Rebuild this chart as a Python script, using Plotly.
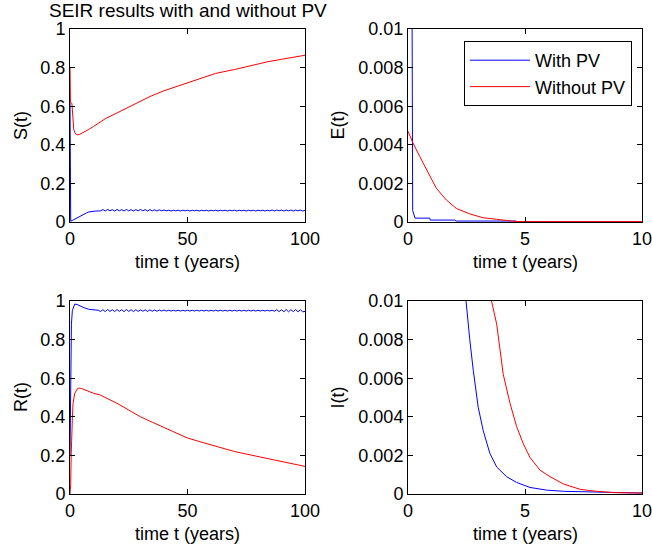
import plotly.graph_objects as go

# ---------------- data ----------------
# S(t)
t_S_pv = [0, 0.3, 1, 2, 3, 4, 5, 6, 7, 8, 9, 10, 11, 12, 13,
          14, 15, 16, 17, 18, 19, 20, 21, 22, 23, 24, 25, 26, 27, 28, 29, 30,
          31, 32, 33, 34, 35, 36, 37, 38, 39, 40, 41, 42, 43, 44, 45, 46, 47,
          48, 49, 50, 51, 52, 53, 54, 55, 56, 57, 58, 59, 60, 61, 62, 63, 64,
          65, 66, 67, 68, 69, 70, 71, 72, 73, 74, 75, 76, 77, 78, 79, 80, 81,
          82, 83, 84, 85, 86, 87, 88, 89, 90, 91, 92, 93, 94, 95, 96, 97, 98,
          99, 100]
S_pv = [0.63, 0.004, 0.008, 0.015, 0.022, 0.030, 0.036, 0.042, 0.047, 0.052, 0.055, 0.057, 0.057, 0.057, 0.058,
        0.064, 0.057, 0.065, 0.058, 0.064, 0.057, 0.065, 0.058, 0.064, 0.057, 0.065, 0.058, 0.064, 0.057, 0.064, 0.058, 0.065,
        0.058, 0.064, 0.057, 0.064, 0.058, 0.063, 0.057, 0.063, 0.058, 0.062, 0.058, 0.061, 0.057, 0.061, 0.058, 0.061, 0.057,
        0.061, 0.058, 0.061, 0.057, 0.061, 0.058, 0.061, 0.057, 0.061, 0.058, 0.061, 0.057, 0.061, 0.058, 0.061, 0.057, 0.061,
        0.058, 0.061, 0.057, 0.061, 0.058, 0.061, 0.057, 0.061, 0.058, 0.061, 0.057, 0.061, 0.058, 0.061, 0.057, 0.061, 0.058,
        0.061, 0.057, 0.061, 0.058, 0.062, 0.057, 0.062, 0.058, 0.062, 0.057, 0.062, 0.058, 0.062, 0.057, 0.062, 0.058, 0.062,
        0.057, 0.060]
t_S_nopv = [0, 0.2, 0.8, 1.2, 1.6, 2.2, 3, 4, 6, 8, 10, 12.8, 15, 20, 25, 30, 34, 40, 45,
            50, 55, 62, 70, 77, 84, 90, 95, 100]
S_nopv = [0.80, 0.62, 0.615, 0.55, 0.48, 0.46, 0.452, 0.453, 0.465, 0.48, 0.495, 0.52, 0.535, 0.565,
          0.595, 0.625, 0.65, 0.68, 0.70, 0.72, 0.74, 0.77, 0.79, 0.81, 0.83, 0.843, 0.853, 0.864]

# R(t)
t_R_pv = [0, 0.15, 0.3, 0.6, 1, 1.5, 2, 3, 4, 6, 8, 10, 11, 12,
          13, 14, 15, 16, 17, 18, 19, 20, 21, 22, 23, 24, 25, 26, 27, 28, 29, 30,
          31, 32, 33, 34, 35, 36, 37, 38, 39, 40, 41, 42, 43, 44, 45, 46, 47,
          48, 49, 50, 51, 52, 53, 54, 55, 56, 57, 58, 59, 60, 61, 62, 63, 64,
          65, 66, 67, 68, 69, 70, 71, 72, 73, 74, 75, 76, 77, 78, 79, 80, 81,
          82, 83, 84, 85, 86, 87, 88, 89, 90, 91, 92, 93, 94, 95, 96, 97, 98,
          99, 100]
R_pv = [0.20, 0.55, 0.75, 0.88, 0.95, 0.975, 0.984, 0.982, 0.975, 0.965, 0.957, 0.953, 0.953, 0.952,
        0.946, 0.955, 0.945, 0.956, 0.946, 0.955, 0.945, 0.956, 0.946, 0.955, 0.945, 0.956, 0.946, 0.955, 0.945, 0.955, 0.946, 0.954,
        0.947, 0.954, 0.946, 0.954, 0.947, 0.953, 0.947, 0.953, 0.948, 0.953, 0.948, 0.952, 0.948, 0.952, 0.948, 0.952, 0.948,
        0.952, 0.948, 0.952, 0.948, 0.952, 0.948, 0.952, 0.948, 0.952, 0.948, 0.952, 0.948, 0.952, 0.948, 0.952, 0.948, 0.952,
        0.948, 0.952, 0.948, 0.952, 0.948, 0.952, 0.948, 0.952, 0.948, 0.952, 0.948, 0.952, 0.948, 0.952, 0.948, 0.952, 0.948,
        0.952, 0.948, 0.952, 0.948, 0.952, 0.947, 0.955, 0.945, 0.955, 0.944, 0.956, 0.944, 0.955, 0.945, 0.956, 0.944, 0.955,
        0.944, 0.946]
t_R_nopv = [0, 0.3, 0.5, 0.7, 1, 1.3, 2, 3, 3.8, 5, 7, 10, 12.8, 15, 20, 25, 30, 35, 40, 45,
            50, 55, 60, 65, 70, 75, 80, 85, 90, 95, 100]
R_nopv = [0.0, 0.05, 0.20, 0.36, 0.39, 0.47, 0.52, 0.543, 0.549, 0.546, 0.535, 0.522, 0.513, 0.50,
          0.47, 0.435, 0.40, 0.372, 0.345, 0.317, 0.29, 0.272, 0.255, 0.237, 0.22, 0.207,
          0.194, 0.181, 0.168, 0.156, 0.143]

# E(t)
t_E_pv = [0, 0.15, 0.2, 0.3, 0.93, 0.95, 2.0, 2.05, 4.6, 4.65, 10]
E_pv = [0.08, 0.011, 0.0006, 0.0002, 0.0002, 0.0001, 0.0001, 0.00005, 0.00005, 0.00001, 0.00001]
t_E_nopv = [0, 0.21, 0.5, 0.93, 1.21, 1.64, 2.07, 2.64, 3.21, 3.79, 4.57, 5, 10]
E_nopv = [0.0047, 0.0041, 0.0034, 0.00235, 0.00175, 0.00114, 0.0007, 0.00042, 0.00022, 0.00014,
          0.00003, 0.00002, 0.00002]

# I(t)
t_I_pv = [2.2, 2.47, 2.64, 2.79, 3.0, 3.21, 3.5, 3.79, 4.21, 4.64, 5.21, 5.93, 6.64, 8.07, 9, 10]
I_pv = [0.0135, 0.01, 0.0080, 0.0064, 0.0045, 0.0033, 0.0021, 0.0014, 0.0009, 0.0006, 0.00034,
        0.0002, 0.00014, 0.0001, 0.00006, 0.00005]
t_I_nopv = [3.4, 3.57, 3.79, 4.07, 4.36, 4.64, 4.93, 5.21, 5.64, 6.07, 6.64, 7.36, 8.07, 8.79, 10]
I_nopv = [0.0115, 0.01, 0.0088, 0.0062, 0.0047, 0.0035, 0.0026, 0.0019, 0.00124, 0.0009, 0.00052,
          0.00024, 0.00014, 0.00007, 0.00005]

# ticks
x_long_ticks = [0, 50, 100]
x_short_ticks = [0, 5, 10]
y_unit_ticks = [0, 0.2, 0.4, 0.6, 0.8, 1]
y_unit_text = ["0", "0.2", "0.4", "0.6", "0.8", "1"]
y_small_ticks = [0, 0.002, 0.004, 0.006, 0.008, 0.01]
y_small_text = ["0", "0.002", "0.004", "0.006", "0.008", "0.01"]

labels = ["With PV", "Without PV"]
title_text = "SEIR results with and without PV"
y_titles = ["S(t)", "E(t)", "R(t)", "I(t)"]
x_title = "time t (years)"

# ---------------- figure ----------------
W, H = 652, 549
BLUE, RED = "#0000ff", "#ff0000"
FONT = "Liberation Sans, Arial, sans-serif"
FS = 18

# pixel boxes of the four panels: (left, right, top, bottom)
boxes = [(70, 305, 29, 222), (408, 642, 29, 222), (70, 305, 301, 494), (408, 642, 301, 494)]

fig = go.Figure()

panels = [
    (t_S_pv, S_pv, t_S_nopv, S_nopv),
    (t_E_pv, E_pv, t_E_nopv, E_nopv),
    (t_R_pv, R_pv, t_R_nopv, R_nopv),
    (t_I_pv, I_pv, t_I_nopv, I_nopv),
]
for i, (tb, yb, tr, yr) in enumerate(panels):
    ax = "" if i == 0 else str(i + 1)
    fig.add_trace(go.Scatter(x=tb, y=yb, mode="lines", line=dict(color=BLUE, width=1),
                             name=labels[0], showlegend=(i == 1), xaxis="x" + ax, yaxis="y" + ax))
    fig.add_trace(go.Scatter(x=tr, y=yr, mode="lines", line=dict(color=RED, width=1),
                             name=labels[1], showlegend=(i == 1), xaxis="x" + ax, yaxis="y" + ax))

common = dict(showline=True, linecolor="black", linewidth=1, mirror="allticks", ticks="inside",
              ticklen=5, tickcolor="black", tickwidth=1, showgrid=False, zeroline=False,
              automargin=False, ticklabeloverflow="allow",
              tickfont=dict(family=FONT, size=FS, color="black"))

layout = {}
annotations = []
for i, (l, r, t, b) in enumerate(boxes):
    ax = "" if i == 0 else str(i + 1)
    long_x = i in (0, 2)
    xdom = [l / W, r / W]
    ydom = [1 - b / H, 1 - t / H]
    layout["xaxis" + ax] = dict(common, domain=xdom, anchor="y" + ax,
                                range=[0, 100] if long_x else [0, 10],
                                tickvals=x_long_ticks if long_x else x_short_ticks,
                                ticktext=[str(v) for v in (x_long_ticks if long_x else x_short_ticks)])
    layout["yaxis" + ax] = dict(common, domain=ydom, anchor="x" + ax,
                                range=[0, 1] if long_x else [0, 0.01],
                                tickvals=y_unit_ticks if long_x else y_small_ticks,
                                ticktext=y_unit_text if long_x else y_small_text)
    # y title
    ytx = 20.5 if long_x else 337
    annotations.append(dict(text=y_titles[i], x=ytx / W, y=1 - (t + b) / 2 / H, xref="paper", yref="paper",
                            showarrow=False, textangle=-90, xanchor="center", yanchor="middle",
                            font=dict(family=FONT, size=FS, color="black")))
    # x title
    annotations.append(dict(text=x_title, x=(l + r) / 2 / W, y=1 - (b + 40) / H, xref="paper", yref="paper",
                            showarrow=False, xanchor="center", yanchor="middle",
                            font=dict(family=FONT, size=FS, color="black")))

annotations.append(dict(text=title_text, x=187.5 / W, y=1 - 10.5 / H, xref="paper", yref="paper",
                        showarrow=False, xanchor="center", yanchor="middle",
                        font=dict(family=FONT, size=19, color="black")))

fig.update_layout(
    width=W, height=H,
    margin=dict(l=0, r=0, t=0, b=0),
    paper_bgcolor="white", plot_bgcolor="white",
    annotations=annotations,
    legend=dict(x=632 / W, y=1 - 41 / H, xanchor="right", yanchor="top", bgcolor="white",
                bordercolor="black", borderwidth=1, itemwidth=60,
                font=dict(family=FONT, size=FS, color="black"), tracegroupgap=0),
    **layout,
)

fig.write_html("out.html")
